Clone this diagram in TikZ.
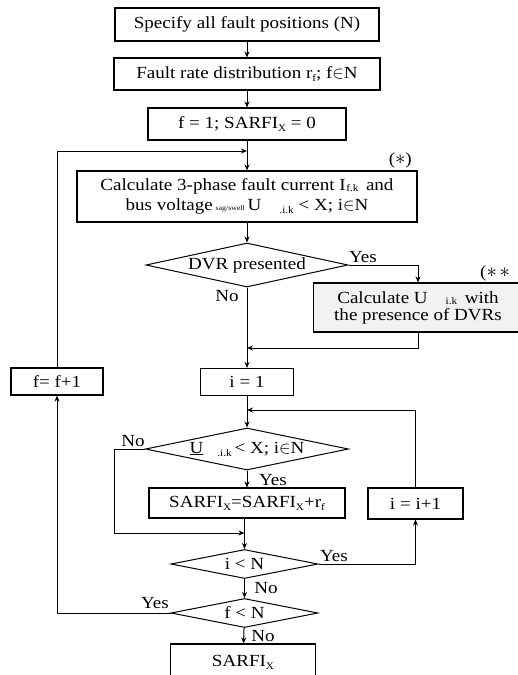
\documentclass[tikz,border=0pt]{standalone}
\usepackage{fontspec}
\setmainfont{Liberation Serif}[FakeStretch=1.12]
\usetikzlibrary{shapes.geometric,arrows.meta}
\newcommand{\lsub}[1]{\raisebox{-3pt}{\fontsize{10}{10}\selectfont #1}}
\newcommand{\hsub}[1]{\raisebox{-1.5pt}{\fontsize{10}{10}\selectfont #1}}
\newcommand{\bigast}{{\fontsize{21}{21}\selectfont$\ast$}}
\begin{document}
\begin{tikzpicture}[x=1pt,y=-1pt,font=\fontsize{17}{19}\selectfont,
  box/.style={draw, line width=1.1pt, inner sep=0pt, align=center, rectangle},
  dia/.style={draw, diamond, line width=1pt, inner sep=0pt},
  conn/.style={line width=1pt, -{Stealth[length=6pt,width=5pt]}},
  lbl/.style={inner sep=0pt}]
\useasboundingbox (0,0) rectangle (517,675);
% boxes
\node[box, minimum width=264pt, minimum height=33pt] (b1) at (247,24.5) {Specify all fault positions (N)};
\node[box, minimum width=266pt, minimum height=32pt] (b2) at (247,74) {Fault rate distribution r\lsub{f}; f$\in$N};
\node[box, minimum width=198pt, minimum height=32pt] (b3) at (247,124) {f = 1; SARFI\lsub{X} = 0};
\node[box, minimum width=340pt, minimum height=51pt] (b4) at (247,196.5) {Calculate 3-phase fault current I\kern0.5pt\hsub{f.k}\, and\\[1.5pt] bus voltage\,{\fontsize{7}{7}\selectfont sag/swell}\,U\hspace{18pt}\lsub{.i.k} < X; i$\in$N};
\node[lbl, anchor=south east] (star1) at (412,168) {(\bigast)};
\node[dia, minimum width=202pt, minimum height=44pt] (d1) at (247,265) {\makebox[0pt]{DVR presented}};
\node[lbl] (y1) at (363,257) {Yes};
\node[lbl] (n1) at (227,296) {No};
\node[box, fill=gray!10, minimum width=209pt, minimum height=49pt] (b5) at (418,307.5) {Calculate U\hspace{18pt}\hsub{i.k}\, with\\[-2pt] the presence of DVRs};
\node[lbl, anchor=west] (star2) at (480,273) {(\bigast\,\bigast};
\node[box, minimum width=93pt, minimum height=27pt] (b6) at (247,382) {i = 1};
\node[box, minimum width=92pt, minimum height=27pt] (bf) at (57,381.5) {f= f+1};
\node[dia, minimum width=203pt, minimum height=42pt] (d2) at (247,449) {\makebox[0pt]{\underline{U}\hspace{14pt}\lsub{.i.k}\,< X; i$\in$N}};
\node[lbl] (n2) at (133,441) {No};
\node[lbl] (y2) at (273,480) {Yes};
\node[box, minimum width=196pt, minimum height=30pt] (b7) at (247,503) {SARFI\lsub{X}=SARFI\lsub{X}+r\lsub{f}};
\node[box, minimum width=95pt, minimum height=31pt] (bi) at (415.5,503.5) {i = i+1};
\node[dia, minimum width=147pt, minimum height=29pt] (d3) at (244.5,564) {\makebox[0pt]{i < N}};
\node[lbl] (y3) at (334,556) {Yes};
\node[lbl] (n3) at (266,588) {No};
\node[dia, minimum width=147pt, minimum height=29pt] (d4) at (244.5,613) {\makebox[0pt]{f < N}};
\node[lbl] (y4) at (155,603) {Yes};
\node[lbl] (n4) at (263,636) {No};
\node[box, minimum width=145pt, minimum height=36pt] (bs) at (243,662) {SARFI\lsub{X}};
% junctions
\coordinate (j1) at (247,151);
\coordinate (j2) at (247,348);
\coordinate (j3) at (247,410);
\coordinate (k1) at (114,533);
\coordinate (j4) at (244.5,533);
% connectors
\draw[conn] (b1) -- (b2);
\draw[conn] (b2) -- (b3);
\draw[conn] (b3) -- (b4);
\draw[conn] (bf.north) |- (j1);
\draw[conn] (b4) -- (d1);
\draw[conn] (d1.east) -| (b5.north);
\draw[conn] (d1.south) -- (b6.north);
\draw[conn] (b5.south) |- (j2);
\draw[conn] (b6) -- (d2);
\draw[conn] (bi.north) |- (j3);
\draw[conn] (d2.west) -| (k1) -- (j4);
\draw[conn] (d2) -- (b7);
\draw[conn] (b7.south -| d3) -- (d3.north);
\draw[conn] (d3.east) -| (bi.south);
\draw[conn] (d3) -- (d4);
\draw[conn] (d4.west) -| (bf.south);
\draw[conn] (d4) -- (bs);
\end{tikzpicture}
\end{document}
